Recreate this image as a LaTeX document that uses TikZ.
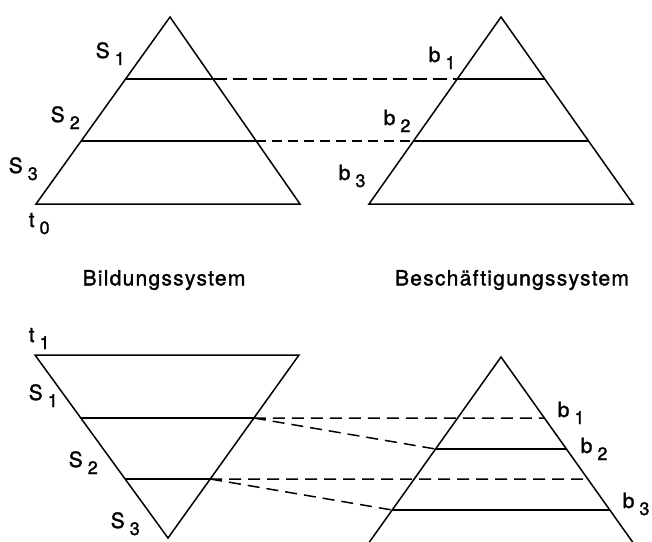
\documentclass[tikz,border=0pt]{standalone}
\usepackage{fontspec}
\setmainfont{TeX Gyre Heros}[FakeBold=1.5]
\newfontfamily\spaced{TeX Gyre Heros}[LetterSpace=6,FakeBold=1.5]
\usetikzlibrary{calc}
\newcommand\lb[2]{#1\hspace{5pt}\raisebox{-7pt}{\fontsize{18}{18}\selectfont #2}}
\begin{document}
\begin{tikzpicture}[x=1pt,y=-1pt, line width=1.5pt, line join=miter,
  dsh/.style={dash pattern=on 12pt off 7pt},
  lbl/.style={inner sep=0pt, anchor=base west, font=\fontsize{21}{21}\selectfont},
  ttl/.style={inner sep=0pt, font=\spaced\fontsize{21}{21}\selectfont}]
\useasboundingbox (0,0) rectangle (652,541);
\clip (0,0) rectangle (652,541);
% ---- top left triangle
\coordinate (A1) at (170,17); \coordinate (L1) at (36,204); \coordinate (R1) at (300,204);
\draw (L1) -- (A1) -- (R1) -- cycle;
\coordinate (a1l) at ($(A1)!0.33155!(L1)$); \coordinate (a1r) at ($(A1)!0.33155!(R1)$);
\coordinate (a2l) at ($(A1)!0.66310!(L1)$); \coordinate (a2r) at ($(A1)!0.66310!(R1)$);
\draw (a1l) -- (a1r); \draw (a2l) -- (a2r);
% ---- top right triangle
\coordinate (A2) at (501,17); \coordinate (L2) at (369,204); \coordinate (R2) at (633,204);
\draw (L2) -- (A2) -- (R2) -- cycle;
\coordinate (b1l) at ($(A2)!0.33155!(L2)$); \coordinate (b1r) at ($(A2)!0.33155!(R2)$);
\coordinate (b2l) at ($(A2)!0.66310!(L2)$); \coordinate (b2r) at ($(A2)!0.66310!(R2)$);
\draw (b1l) -- (b1r); \draw (b2l) -- (b2r);
\draw[dash pattern=on 14pt off 6pt] (a1r) -- (b1l);
\draw[dash pattern=on 10pt off 6pt] (a2r) -- (b2l);
% ---- bottom left inverted triangle
\coordinate (TL) at (35,355); \coordinate (TR) at (299,355); \coordinate (V) at (168,538);
\draw (TL) -- (TR) -- (V) -- cycle;
\coordinate (c1l) at ($(TL)!0.34426!(V)$); \coordinate (c1r) at ($(TR)!0.34426!(V)$);
\coordinate (c2l) at ($(TL)!0.67760!(V)$); \coordinate (c2r) at ($(TR)!0.67760!(V)$);
\draw (c1l) -- (c1r); \draw (c2l) -- (c2r);
% ---- bottom right triangle
\coordinate (A4) at (501,357); \coordinate (L4) at (368,544); \coordinate (R4) at (634,544);
\draw (L4) -- (A4) -- (R4) -- cycle;
\coordinate (d1r) at ($(A4)!0.32620!(R4)$);
\coordinate (d2l) at ($(A4)!0.49198!(L4)$); \coordinate (d2r) at ($(A4)!0.49198!(R4)$);
\coordinate (d3r) at ($(A4)!0.65241!(R4)$);
\coordinate (d4l) at ($(A4)!0.81818!(L4)$); \coordinate (d4r) at ($(A4)!0.81818!(R4)$);
\draw (d2l) -- (d2r); \draw (d4l) -- (d4r);
\draw[dsh] (c1r) -- (d1r);
\draw[dsh] (c1r) -- (d2l);
\draw[dsh] (c2r) -- (d3r);
\draw[dsh] (c2r) -- (d4l);
% ---- labels top
\node[lbl] (ls1) at (95,58) {\lb{S}{1}};
\node[lbl] (ls2) at (50,122) {\lb{S}{2}};
\node[lbl] (ls3) at (8,173) {\lb{S}{3}};
\node[lbl] (lt0) at (28,227) {\lb{t}{0}};
\node[lbl] (lb1) at (428,62) {\lb{b}{1}};
\node[lbl] (lb2) at (383,125) {\lb{b}{2}};
\node[lbl] (lb3) at (338,180) {\lb{b}{3}};
% ---- titles
\node[ttl] (bild) at (164,280) {Bildungssystem};
\node[ttl] (besch) at (512,280) {Beschäftigungssystem};
% ---- labels bottom
\node[lbl] (lt1) at (28,342) {\lb{t}{1}};
\node[lbl] (lS1) at (28,400) {\lb{S}{1}};
\node[lbl] (lS2) at (68,467) {\lb{S}{2}};
\node[lbl] (lS3) at (110,528) {\lb{S}{3}};
\node[lbl] (lB1) at (557,417) {\lb{b}{1}};
\node[lbl] (lB2) at (580,453) {\lb{b}{2}};
\node[lbl] (lB3) at (622,508) {\lb{b}{3}};
\end{tikzpicture}
\end{document}
